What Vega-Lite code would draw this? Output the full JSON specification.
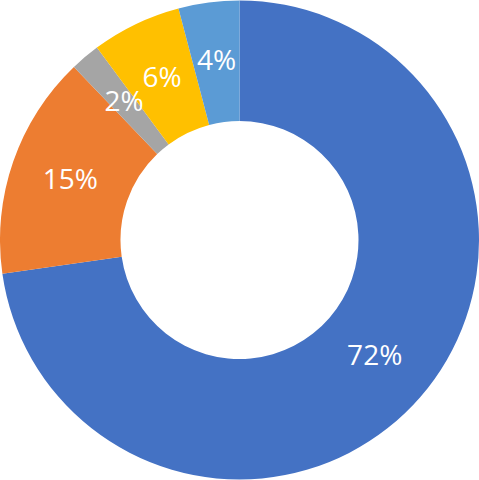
{
  "$schema": "https://vega.github.io/schema/vega-lite/v6.json",
  "width": 479,
  "height": 480,
  "autosize": {"type": "fit", "contains": "padding"},
  "padding": 0,
  "background": "white",
  "view": {"stroke": null},
  "data": {
    "values": [
      {"idx": 1, "category": "A", "value": 72.75, "label": "72%"},
      {"idx": 2, "category": "B", "value": 15.1, "label": "15%"},
      {"idx": 3, "category": "C", "value": 2.0, "label": "2%"},
      {"idx": 4, "category": "D", "value": 6.05, "label": "6%"},
      {"idx": 5, "category": "E", "value": 4.1, "label": "4%"}
    ]
  },
  "encoding": {
    "theta": {"field": "value", "type": "quantitative", "stack": true},
    "order": {"field": "idx", "type": "quantitative"},
    "color": {
      "field": "category",
      "type": "nominal",
      "scale": {"domain": ["A", "B", "C", "D", "E"], "range": ["#4472C4", "#ED7D31", "#A5A5A5", "#FFC000", "#5B9BD5"]},
      "legend": null
    }
  },
  "layer": [
    {"mark": {"type": "arc", "outerRadius": 239.5, "innerRadius": 119}},
    {
      "mark": {"type": "text", "radius": 179, "font": "Open Sans", "fontSize": 28, "fill": "white", "align": "center", "baseline": "middle"},
      "encoding": {"text": {"field": "label", "type": "nominal"}, "color": {"value": "white"}}
    }
  ]
}
